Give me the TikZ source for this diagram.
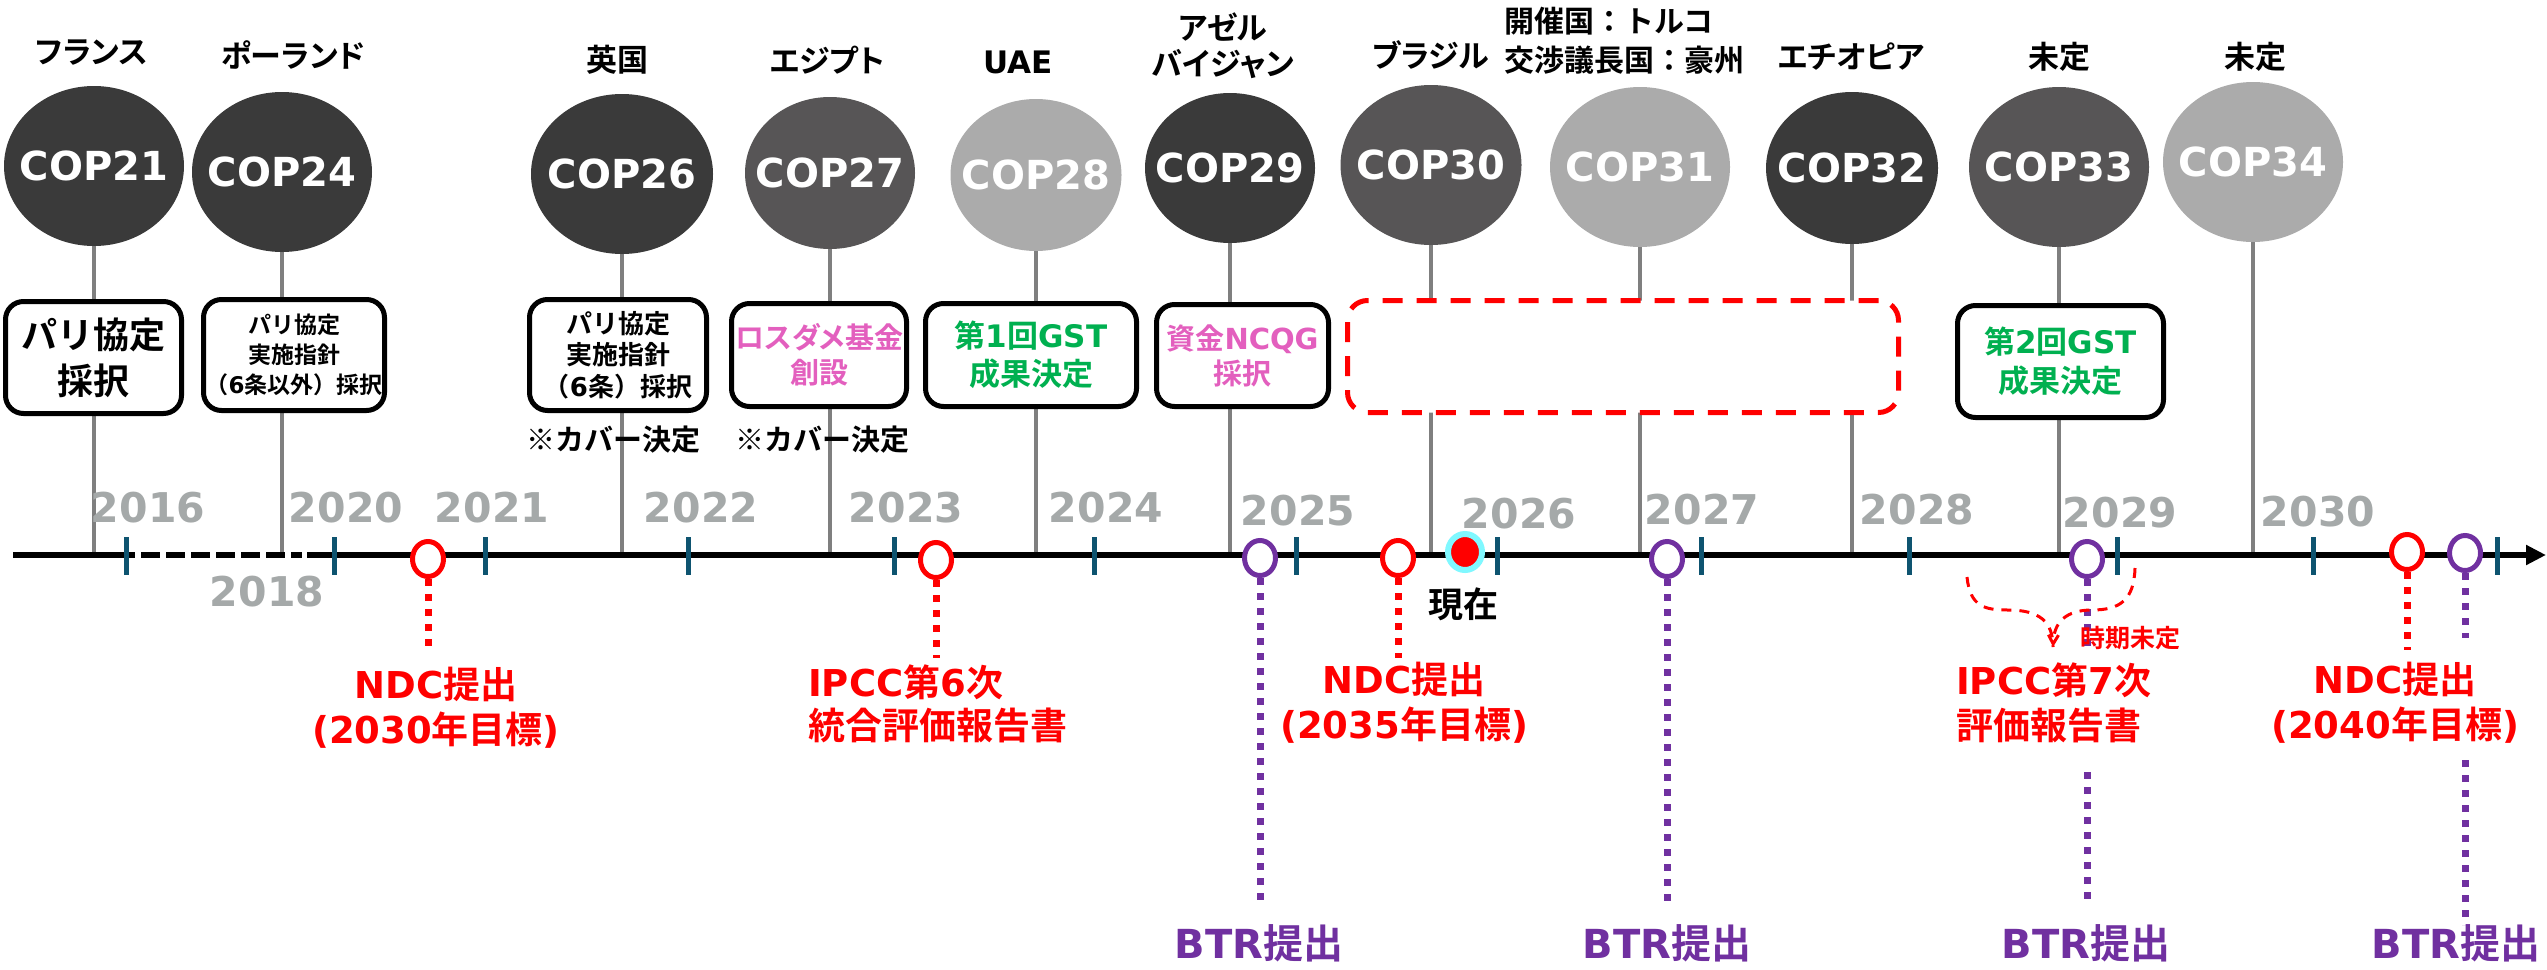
\documentclass[tikz,border=0pt]{standalone}
\usepackage{fontspec}
\setmainfont{Noto Sans CJK JP Bold}
\newfontfamily\jpp{Noto Sans CJK JP Bold}[RawFeature=+palt]
\newfontfamily\lat{DejaVu Sans Bold}
\usetikzlibrary{shapes.geometric,arrows.meta}
\definecolor{copdark}{HTML}{3A3A3A}
\definecolor{copmid}{HTML}{575556}
\definecolor{coplight}{HTML}{ABABAB}
\definecolor{stemgray}{HTML}{7F7F7F}
\definecolor{yeargray}{HTML}{A5A9A9}
\definecolor{tickteal}{HTML}{0E5470}
\definecolor{ndcred}{HTML}{FF0000}
\definecolor{btrpurple}{HTML}{7030A0}
\definecolor{gstgreen}{HTML}{00B050}
\definecolor{fundpink}{HTML}{E35FBE}
\definecolor{nowcyan}{HTML}{80F8FF}
\newcommand{\fsz}[2]{\fontsize{#1}{#2}\selectfont}
\tikzset{
  cop/.style={ellipse, inner sep=0pt},
  coptxt/.style={text=white, font=\lat\fsz{40}{48}, inner sep=0pt},
  coplbl/.style={font=\jpp\fsz{31}{38}, align=center, inner sep=0pt},
  evbox/.style={draw=black, line width=5pt, rounded corners=18pt, fill=white, align=center, inner sep=0pt},
  stem/.style={draw=stemgray, line width=4pt},
  yr/.style={font=\lat\fsz{41}{41}, text=yeargray, inner sep=0pt},
  tickmk/.style={draw=tickteal, line width=5pt},
  ring/.style={ellipse, line width=5pt, fill=white, minimum width=31pt, minimum height=35pt, inner sep=0pt},
  dotl/.style={line width=7pt, dash pattern=on 7pt off 8pt},
  redtxt/.style={text=ndcred, font=\fsz{37}{45}, align=center, inner sep=0pt},
  btrtxt/.style={text=btrpurple, font=\fsz{40}{40}, inner sep=0pt},
}
\begin{document}
\begin{tikzpicture}[x=1pt,y=-1pt]
\useasboundingbox[fill=white] (0,0) rectangle (2547,969);
\coordinate (ax) at (0,555);
% COP ellipse positions
\coordinate (p21) at (94,166);
\coordinate (p24) at (282,172);
\coordinate (p26) at (622,174);
\coordinate (p27) at (830,173);
\coordinate (p28) at (1036,175);
\coordinate (p29) at (1230,168);
\coordinate (p30) at (1431,165);
\coordinate (p31) at (1640,167);
\coordinate (p32) at (1852,168);
\coordinate (p33) at (2059,167);
\coordinate (p34) at (2253,162);
% stems
\foreach \c in {21,24,26,27,28,29,30,31,32,33,34}{
  \draw[stem] (p\c) -- (p\c |- ax);
}
% boxes
\node[evbox, minimum width=176pt, minimum height=112pt, font=\fsz{36}{46}] (b21) at (93.5,357.5) {パリ協定\\採択};
\node[evbox, minimum width=181pt, minimum height=111pt, font=\fsz{23}{30}] (b24) at (294,355) {パリ協定\\実施指針\\（{\lat 6}条以外）採択};
\node[evbox, minimum width=177pt, minimum height=111pt, font=\fsz{26}{31.5}] (b26) at (618,355) {パリ協定\\実施指針\\（{\lat 6}条）採択};
\node[evbox, minimum width=175pt, minimum height=103pt, font=\jpp\fsz{29}{35}, text=fundpink] (b27) at (819,355) {ロスダメ基金\\創設};
\node[evbox, minimum width=211pt, minimum height=103pt, font=\fsz{31}{38}, text=gstgreen] (b28) at (1031,355) {第{\lat 1}回{\lat GST}\\成果決定};
\node[evbox, minimum width=172pt, minimum height=102pt, font=\fsz{29}{35}, text=fundpink] (b29) at (1242.5,355.5) {資金{\lat NCQG}\\採択};
\node[draw=ndcred, line width=5pt, dash pattern=on 20pt off 14pt, rounded corners=20pt, fill=white, minimum width=551pt, minimum height=112pt] (tbd) at (1623,356.5) {};
\node[evbox, minimum width=206pt, minimum height=112pt, font=\fsz{31}{39}, text=gstgreen] (b33) at (2060.5,361.5) {第{\lat 2}回{\lat GST}\\成果決定};
% ellipses
\node[cop, fill=copdark, minimum width=180pt, minimum height=160pt] (c21) at (p21) {};
\node[cop, fill=copdark, minimum width=180pt, minimum height=160pt] (c24) at (p24) {};
\node[cop, fill=copdark, minimum width=182pt, minimum height=160pt] (c26) at (p26) {};
\node[cop, fill=copmid, minimum width=170pt, minimum height=152pt] (c27) at (p27) {};
\node[cop, fill=coplight, minimum width=171pt, minimum height=152pt] (c28) at (p28) {};
\node[cop, fill=copdark, minimum width=170pt, minimum height=150pt] (c29) at (p29) {};
\node[cop, fill=copmid, minimum width=181pt, minimum height=160pt] (c30) at (p30) {};
\node[cop, fill=coplight, minimum width=180pt, minimum height=160pt] (c31) at (p31) {};
\node[cop, fill=copdark, minimum width=172pt, minimum height=152pt] (c32) at (p32) {};
\node[cop, fill=copmid, minimum width=180pt, minimum height=160pt] (c33) at (p33) {};
\node[cop, fill=coplight, minimum width=180pt, minimum height=160pt] (c34) at (p34) {};
\node[coptxt] (l21) at (c21) {COP21};
\node[coptxt] (l24) at (c24) {COP24};
\node[coptxt] (l26) at (c26) {COP26};
\node[coptxt] (l27) at (c27) {COP27};
\node[coptxt] (l28) at (c28) {COP28};
\node[coptxt] (l29) at (c29) {COP29};
\node[coptxt] (l30) at (c30) {COP30};
\node[coptxt] (l31) at (c31) {COP31};
\node[coptxt] (l32) at (c32) {COP32};
\node[coptxt] (l33) at (c33) {COP33};
\node[coptxt] (l34) at (c34) {COP34};
% host labels
\node[coplbl] (h21) at (92,53) {フランス};
\node[coplbl] (h24) at (293,55) {ポーランド};
\node[coplbl] (h26) at (617,60) {英国};
\node[coplbl] (h27) at (827,60) {エジプト};
\node[coplbl, font=\lat\fsz{31}{38}] (h28) at (1018,62) {UAE};
\node[coplbl, font=\jpp\fsz{31}{36}] (h29) at (1223,46) {アゼル\\バイジャン};
\node[coplbl] (h30) at (1431,55) {ブラジル};
\node[coplbl, font=\fsz{30}{39}, align=left, anchor=west] (h31) at (1504,41) {開催国：トルコ\\交渉議長国：豪州};
\node[coplbl] (h32) at (1851,57) {エチオピア};
\node[coplbl] (h33) at (2059,57) {未定};
\node[coplbl] (h34) at (2255,57) {未定};
% cover notes
\node[font=\fsz{29}{29}, inner sep=0pt] (cv26) at (613,440) {※カバー決定};
\node[font=\fsz{29}{29}, inner sep=0pt] (cv27) at (822,440) {※カバー決定};
% axis
\coordinate (a0) at (13,555);
\coordinate (a1) at (116,555);
\coordinate (a2) at (302,555);
\coordinate (a3) at (307,555);
\coordinate (aend) at (2546,555);
\draw[line width=6pt] (a0) -- (a1);
\draw[line width=6pt, dash pattern=on 19pt off 6pt] (a1) -- (a2);
\draw[line width=6pt, -{Triangle[length=20pt,width=19pt]}] (a3) -- (aend);
% ticks
\foreach \x in {126,334,485,688,894,1094,1296,1497,1701,1909,2117,2313,2497}{
  \draw[tickmk] (\x,537) -- (\x,575);
}
% years
\node[yr] (y16) at (148,508) {2016};
\node[yr] (y18) at (267,592) {2018};
\node[yr] (y20) at (346,508) {2020};
\node[yr] (y21) at (492,508) {2021};
\node[yr] (y22) at (701,508) {2022};
\node[yr] (y23) at (906,508) {2023};
\node[yr] (y24) at (1106,508) {2024};
\node[yr] (y25) at (1298,511) {2025};
\node[yr] (y26) at (1519,514) {2026};
\node[yr] (y27) at (1702,510) {2027};
\node[yr] (y28) at (1917,510) {2028};
\node[yr] (y29) at (2120,513) {2029};
\node[yr] (y30) at (2318,512) {2030};
% milestone circles
\node[ring, draw=ndcred] (n21) at (428,559) {};
\node[ring, draw=ndcred] (i23) at (936,560) {};
\node[ring, draw=btrpurple] (r25) at (1260,558) {};
\node[ring, draw=ndcred] (n25) at (1398,558) {};
\node[ellipse, draw=nowcyan, line width=6pt, fill=ndcred, minimum width=34pt, minimum height=36pt, inner sep=0pt] (now) at (1465,552) {};
\node[ring, draw=btrpurple] (r27) at (1667,559) {};
\node[ring, draw=btrpurple] (r29) at (2087,559) {};
\node[ring, draw=ndcred] (n30) at (2407,552) {};
\node[ring, draw=btrpurple] (r30) at (2465,553) {};
% end points of dotted lines
\coordinate (n21e) at (428,650);
\coordinate (i23e) at (936,658);
\coordinate (r25e) at (1260,905);
\coordinate (n25e) at (1398,658);
\coordinate (r27e) at (1667,905);
\coordinate (r29e) at (2087,650);
\coordinate (r29s) at (2087,772);
\coordinate (r29f) at (2087,905);
\coordinate (n30e) at (2407,650);
\coordinate (r30e) at (2465,638);
\coordinate (r30s) at (2465,760);
\coordinate (r30f) at (2465,925);
\draw[dotl, ndcred] (n21.south) -- (n21e);
\draw[dotl, ndcred] (i23.south) -- (i23e);
\draw[dotl, btrpurple] (r25.south) -- (r25e);
\draw[dotl, ndcred] (n25.south) -- (n25e);
\draw[dotl, btrpurple] (r27.south) -- (r27e);
\draw[dotl, btrpurple] (r29.south) -- (r29e);
\draw[dotl, btrpurple] (r29s) -- (r29f);
\draw[dotl, ndcred] (n30.south) -- (n30e);
\draw[dotl, btrpurple] (r30.south) -- (r30e);
\draw[dotl, btrpurple] (r30s) -- (r30f);
% texts below axis
\node[font=\fsz{35}{35}, inner sep=0pt] (nowt) at (1463,604) {現在};
\node[redtxt] (t21) at (436,708) {{\lat NDC}提出\\{\lat (2030}年目標{\lat )}};
\node[redtxt, align=left, anchor=west, font=\fsz{37}{43}] (t23) at (808,704) {{\lat IPCC}第{\lat 6}次\\統合評価報告書};
\node[redtxt] (t25) at (1404,703) {{\lat NDC}提出\\{\lat (2035}年目標{\lat )}};
\node[redtxt, align=left, anchor=west, font=\fsz{37}{45}] (t29) at (1956,703) {{\lat IPCC}第{\lat 7}次\\評価報告書};
\node[redtxt] (t30) at (2395,703) {{\lat NDC}提出\\{\lat (2040}年目標{\lat )}};
\node[redtxt, font=\fsz{25}{25}] (tbdt) at (2130,638) {時期未定};
\node[btrtxt] (bt25) at (1259,943) {{\lat BTR}提出};
\node[btrtxt] (bt27) at (1667,943) {{\lat BTR}提出};
\node[btrtxt] (bt29) at (2086,943) {{\lat BTR}提出};
\node[btrtxt] (bt30) at (2456,943) {{\lat BTR}提出};
% uncertain-timing curves
\coordinate (cL) at (1967,577);
\coordinate (cR) at (2135,568);
\coordinate (ctip) at (2053,647);
\draw[ndcred, line width=3pt, dash pattern=on 10pt off 8pt] (cL) .. controls (1970,607) and (1985,610) .. (2008,610) .. controls (2040,610) and (2053,622) .. (ctip);
\draw[ndcred, line width=3pt, dash pattern=on 10pt off 8pt, -{Straight Barb[length=9pt,width=10pt]}] (cR) .. controls (2134,600) and (2120,610) .. (2092,610) .. controls (2066,610) and (2054,622) .. (ctip);
\end{tikzpicture}
\end{document}
